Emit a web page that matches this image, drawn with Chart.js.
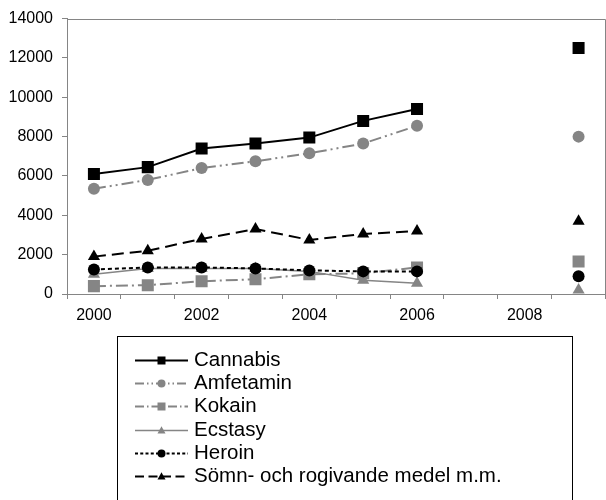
<!DOCTYPE html>
<html>
<head>
<meta charset="utf-8">
<script src="https://cdn.jsdelivr.net/npm/chart.js@4/dist/chart.umd.min.js"></script>
<style>
html,body{margin:0;padding:0;background:#fff;overflow:hidden;width:606px;height:500px;}
canvas{display:block;}
</style>
</head>
<body>
<canvas id="c" width="614" height="500"></canvas>
<script>
const years = ["2000","2001","2002","2003","2004","2005","2006","2007","2008","2009"];
const yTicks = [0,2000,4000,6000,8000,10000,12000,14000];
const seriesNames = ["Cannabis","Amfetamin","Kokain","Ecstasy","Heroin","Sömn- och rogivande medel m.m."];
const cannabis  = [6100,6450,7400,7650,7950,8800,9400,null,null,12500];
const amfetamin = [5350,5800,6400,6750,7150,7650,8550,null,null,8000];
const kokain    = [400,450,650,750,1000,1050,1350,null,null,1650];
const ecstasy   = [1000,1300,1300,1300,1150,700,550,null,null,200];
const heroin    = [1250,1350,1350,1300,1200,1150,1150,null,null,900];
const somn      = [1900,2200,2800,3300,2750,3050,3200,null,null,3700];

const BLACK = '#000000', GRAY = '#858585';
const FONT = "'Liberation Sans', Arial, sans-serif";

const styles = [
  {data: cannabis,  color: BLACK, point: 'rect',     r: 8.5, dash: [],              lw: 2},
  {data: amfetamin, color: GRAY,  point: 'circle',   r: 6,   dash: [12,4,2,4,2,4],  lw: 2},
  {data: kokain,    color: GRAY,  point: 'rect',     r: 8.5, dash: [12,4,2,4],      lw: 2},
  {data: ecstasy,   color: GRAY,  point: 'triangle', r: 7,   dash: [],              lw: 1.5},
  {data: heroin,    color: BLACK, point: 'circle',   r: 6,   dash: [4,3],           lw: 2},
  {data: somn,      color: BLACK, point: 'triangle', r: 7,   dash: [12,6],          lw: 2}
];

const datasets = styles.map((s, i) => ({
  label: seriesNames[i],
  data: s.data,
  borderColor: s.color,
  backgroundColor: s.color,
  borderWidth: s.lw,
  borderDash: s.dash,
  pointStyle: s.point,
  pointRadius: s.r,
  pointHoverRadius: s.r,
  pointBackgroundColor: s.color,
  pointBorderColor: s.color,
  pointBorderWidth: 0,
  tension: 0,
  spanGaps: false,
  order: 5 - i
}));

function drawMarker(ctx, style, x, y, size) {
  ctx.save();
  ctx.fillStyle = style.color;
  ctx.setLineDash([]);
  ctx.beginPath();
  if (style.point === 'rect') {
    ctx.rect(x - size/2, y - size/2, size, size);
  } else if (style.point === 'circle') {
    ctx.arc(x, y, size/2, 0, Math.PI*2);
  } else {
    const h = size * 0.9;
    ctx.moveTo(x, y - h*0.6);
    ctx.lineTo(x + size/2, y + h*0.4);
    ctx.lineTo(x - size/2, y + h*0.4);
    ctx.closePath();
  }
  ctx.fill();
  ctx.restore();
}

const framePlugin = {
  id: 'frame',
  afterDraw(chart) {
    const ctx = chart.ctx, a = chart.chartArea;
    ctx.save();
    ctx.strokeStyle = GRAY;
    ctx.lineWidth = 1;
    ctx.beginPath();
    ctx.moveTo(a.left, Math.round(a.top) + 0.5);
    ctx.lineTo(a.right, Math.round(a.top) + 0.5);
    ctx.lineTo(a.right, a.bottom);
    ctx.stroke();
    // legend box
    ctx.strokeStyle = '#000';
    ctx.strokeRect(117.5, 336.5, 455, 200);
    const x0 = 135, x1 = 188, tx = 194, y0 = 360, dy = 23.2;
    ctx.font = '20.5px ' + FONT;
    ctx.textBaseline = 'middle';
    ctx.textAlign = 'left';
    styles.forEach((s, i) => {
      const y = Math.round(y0 + i * dy);
      ctx.save();
      ctx.strokeStyle = s.color;
      ctx.lineWidth = s.lw;
      ctx.setLineDash(s.dash.length ? s.dash.map(v => v * 0.75) : []);
      ctx.beginPath();
      ctx.moveTo(x0, y + 0.5);
      ctx.lineTo(x1, y + 0.5);
      ctx.stroke();
      ctx.restore();
      drawMarker(ctx, s, (x0 + x1) / 2, y + 0.5, 8);
      ctx.fillStyle = '#000';
      ctx.fillText(seriesNames[i], tx, y);
    });
    ctx.restore();
  }
};

new Chart(document.getElementById('c'), {
  type: 'line',
  data: { labels: years, datasets },
  plugins: [framePlugin],
  options: {
    responsive: false,
    animation: false,
    devicePixelRatio: 1,
    layout: { padding: { top: 13, right: 7, bottom: 176, left: 0 } },
    plugins: { legend: { display: false }, tooltip: { enabled: false } },
    scales: {
      x: {
        type: 'category',
        offset: true,
        grid: { offset: true, drawOnChartArea: false, drawTicks: true, tickLength: 5, tickColor: GRAY, lineWidth: 1 },
        border: { color: GRAY, width: 1 },
        ticks: {
          autoSkip: false, maxRotation: 0, color: '#000', padding: 7,
          font: { family: FONT, size: 16 },
          callback: (v, i) => (i % 2 === 0 ? years[i] : '')
        },
        afterFit: s => { s.height = 30; }
      },
      y: {
        min: 0, max: 14000,
        afterBuildTicks: s => { s.ticks = yTicks.map(v => ({ value: v })); },
        grid: { drawOnChartArea: false, drawTicks: true, tickLength: 5, tickColor: GRAY },
        border: { color: GRAY, width: 1 },
        ticks: { color: '#000', padding: 9, font: { family: FONT, size: 16 }, callback: v => String(v) },
        afterFit: s => { s.width = 67; }
      }
    }
  }
});
</script>
</body>
</html>
